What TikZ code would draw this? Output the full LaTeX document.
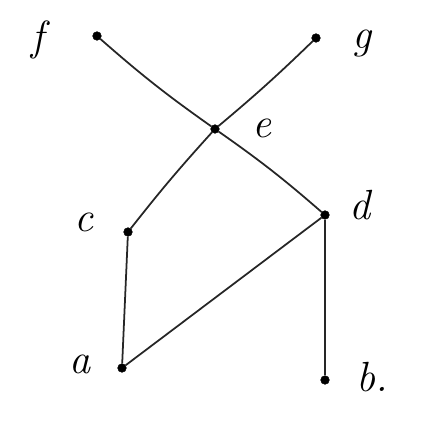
\documentclass[tikz,border=0pt]{standalone}
\begin{document}
\begin{tikzpicture}[x=0.03cm,y=-0.03cm,
  vertex/.style={circle,fill=black,draw=black,inner sep=0pt,minimum size=0.26cm},
  edge/.style={draw=black!85,line width=1.5pt},
  lbl/.style={inner sep=0pt,font=\fontsize{36}{40}\selectfont\itshape}]
\useasboundingbox (0,0) rectangle (428,421);
\node[vertex] (f) at (97,36) {};
\node[vertex] (g) at (316,38) {};
\node[vertex] (e) at (215,129) {};
\node[vertex] (c) at (128,232) {};
\node[vertex] (d) at (325,215) {};
\node[vertex] (a) at (122,368) {};
\node[vertex] (b) at (325,380) {};
\node[lbl] (f-label) at (38,40) {f};
\node[lbl] (g-label) at (362,44) {g};
\node[lbl] (e-label) at (262,128) {e};
\node[lbl] (c-label) at (84,222) {c};
\node[lbl] (d-label) at (360,205) {d};
\node[lbl] (a-label) at (80,364) {a};
\node[lbl] (b-label) at (372,377) {b.};
\path[edge] (f) to[bend right=3] (e);
\path[edge] (g) to[bend left=2] (e);
\path[edge] (e) to[bend right=2] (c);
\path[edge] (e) to[bend left=3] (d);
\path[edge] (c) -- (a);
\path[edge] (a) -- (d);
\path[edge] (d) -- (b);
\end{tikzpicture}
\end{document}
